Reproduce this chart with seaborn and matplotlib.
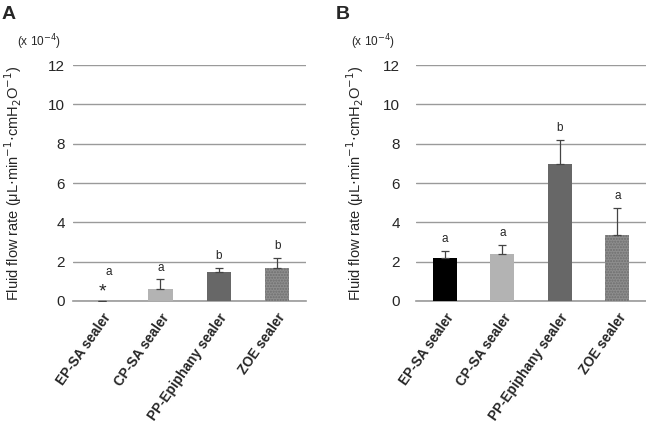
import pandas as pd
import matplotlib.pyplot as plt
import seaborn as sns

# sealer groups and measured flow rates (x 10^-4)
sealers = ['EP-SA sealer', 'CP-SA sealer', 'PP-Epiphany sealer', 'ZOE sealer']
flow_a = [0.01, 0.6, 1.5, 1.7]
err_a = [0.0, 0.5, 0.2, 0.5]
flow_b = [2.2, 2.4, 6.95, 3.35]
err_b = [0.35, 0.45, 1.25, 1.4]
letters_a = ['a', 'a', 'b', 'b']
letters_b = ['a', 'a', 'b', 'a']
yticks = [0, 2, 4, 6, 8, 10, 12]

colors = ['#000000', '#b3b3b3', '#676767', '#8e8e8e']

sns.set_style('white')
plt.rcParams['font.family'] = ['Liberation Sans', 'DejaVu Sans']

fig = plt.figure(figsize=(6.46, 4.29), dpi=100)
ax_a = fig.add_axes([0.113, 0.2984, 0.361, 0.5498])
ax_b = fig.add_axes([0.644, 0.2984, 0.356, 0.5498])


def draw_panel(ax, vals, errs, letters, tag, tag_x, tick_pad, label_x, star=False):
    df = pd.DataFrame({'sealer': sealers, 'flow': vals})
    sns.barplot(data=df, x='sealer', y='flow', hue='sealer', palette=colors,
                width=0.42, legend=False, ax=ax, saturation=1, zorder=3)
    for i, p in enumerate(ax.patches):
        p.set_linewidth(0)
        if i == 3:
            p.set_hatch('......')
            p.set_edgecolor('#6e6e6e')
    pos = list(range(len(sealers)))
    ax.errorbar(pos, vals, yerr=[[0] * 4, errs], fmt='none', ecolor='#444444',
                elinewidth=0.9, capsize=3, capthick=0.9, zorder=4)
    for i, (v, e, t) in enumerate(zip(vals, errs, letters)):
        if star and i == 0:
            ax.text(i, 0.45, '*', ha='center', va='center', fontsize=14)
            ax.text(i + 0.12, 1.45, t, ha='center', va='center', fontsize=8.5)
        else:
            ax.text(i, v + e + 0.6, t, ha='center', va='center', fontsize=8.5)
    ax.set_ylim(0, 12)
    ax.set_xlim(-0.5, 3.5)
    ax.set_yticks(yticks)
    ax.yaxis.grid(True, color='#9a9a9a', linewidth=1, zorder=0)
    ax.set_axisbelow(True)
    for s in ['top', 'right', 'left']:
        ax.spines[s].set_visible(False)
    ax.spines['bottom'].set_color('#9a9a9a')
    ax.spines['bottom'].set_linewidth(1.2)
    ax.tick_params(axis='y', length=0, labelsize=11, pad=tick_pad)
    ax.tick_params(axis='x', length=0, pad=7)
    ax.set_xlabel('')
    ax.set_ylabel('Fluid flow rate (μL$\\cdot$min$^{-1}$$\\cdot$cmH$_2$O$^{-1}$)',
                  fontsize=10.5)
    ax.yaxis.set_label_coords(label_x, 0.5)
    ax.set_xticks(pos)
    ax.set_xticklabels(sealers, rotation=55, ha='right', rotation_mode='anchor',
                       fontsize=9.8, fontweight='bold')
    fig.text(tag_x, 0.985, tag, fontsize=14, fontweight='bold', va='top')
    fig.text(tag_x + 0.023, 0.902, '(x 10$^{-4}$)', fontsize=8.5, va='center')


draw_panel(ax_a, flow_a, err_a, letters_a, 'A', 0.003, 6, -0.21, star=True)
draw_panel(ax_b, flow_b, err_b, letters_b, 'B', 0.52, 11.5, -0.217)

fig.savefig('out.png', dpi=100)
